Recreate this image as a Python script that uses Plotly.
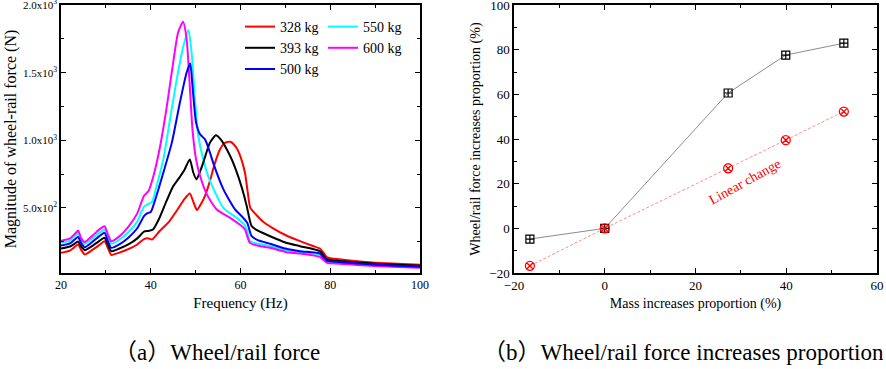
import plotly.graph_objects as go

# ---------------- (a) Wheel/rail force spectra ----------------
freq_328 = [20, 22, 23, 23.8, 24.5, 25.3, 27, 28.5, 29.7, 30.5, 31.2, 33, 35, 37, 38.5, 39.5, 40.3, 42, 44, 46,
            47.5, 48.7, 49.5, 50.3, 51.2, 52.1, 53.2, 54.2, 55.4, 56.5, 57.7, 59, 60, 61, 61.6, 62.2, 63.5, 65,
            67, 70, 73, 76, 77.7, 78.5, 79.3, 82, 86, 90, 95, 100]
force_328 = [168, 185, 210, 230, 190, 156, 190, 225, 254, 200, 153, 170, 195, 230, 270, 275, 267, 330, 395, 490,
             565, 607, 545, 484, 530, 590, 700, 820, 930, 980, 990, 950, 880, 760, 620, 500, 450, 400,
             355, 300, 258, 220, 200, 170, 135, 120, 105, 95, 88, 80]

freq_393 = [20, 22, 23, 23.8, 24.5, 25.3, 27, 28.5, 29.7, 30.5, 31.2, 33, 35, 37, 38.5, 39.5, 40.5, 42, 43.5, 45,
            46.5, 47.5, 48.7, 49.5, 50.2, 51, 51.7, 53.2, 54.5, 55.5, 57.7, 59, 60.3, 61.4, 62, 62.5, 64, 66.6,
            70, 73.3, 77.7, 78.5, 79.3, 82, 86, 90, 95, 100]
force_393 = [200, 215, 235, 252, 215, 188, 220, 255, 279, 225, 180, 200, 230, 275, 325, 330, 340, 430, 550, 660,
             730, 780, 859, 760, 711, 770, 835, 983, 1037, 1010, 884, 780, 650, 513, 420, 365, 330, 291,
             245, 217, 180, 150, 120, 108, 97, 88, 80, 73]

freq_500 = [20, 22, 23, 23.8, 24.5, 25.3, 27, 28.5, 29.7, 30.5, 31.2, 33, 35, 37, 38.5, 39.2, 40, 40.9, 42.8, 44.7,
            46.5, 48, 48.8, 49.3, 50.1, 51, 52.1, 53.2, 53.9, 56.2, 58.8, 60.6, 61.5, 62.5, 64, 66.6, 70, 73.3,
            77.7, 78.5, 79.3, 82, 86, 90, 95, 100]
force_500 = [222, 238, 265, 286, 240, 210, 250, 290, 316, 250, 205, 230, 280, 350, 440, 460, 470, 550, 760, 983,
             1279, 1501, 1568, 1402, 1131, 1044, 1007, 909, 835, 637, 489, 427, 390, 291, 260, 235, 200, 180,
             163, 135, 108, 100, 90, 80, 72, 66]

freq_550 = [20, 22, 23, 23.8, 24.5, 25.3, 27, 28.5, 29.7, 30.5, 31.2, 33, 35, 37, 38.5, 39.5, 40.3, 41.3, 42.8,
            44.3, 45.8, 47.3, 48.4, 49.1, 49.9, 50.6, 51.7, 53.2, 56.2, 59.1, 60.8, 61.5, 62.1, 64, 66.6, 70,
            73.3, 77.7, 78.5, 79.3, 82, 86, 90, 95, 100]
force_550 = [242, 258, 290, 316, 260, 235, 275, 315, 341, 280, 235, 265, 320, 400, 510, 530, 545, 661, 859,
             1156, 1452, 1699, 1815, 1650, 1279, 1032, 859, 700, 501, 427, 378, 330, 254, 235, 217, 188,
             173, 156, 130, 101, 95, 85, 76, 68, 62]

freq_600 = [20, 22, 23, 23.8, 24.5, 25.3, 27, 28.5, 29.7, 30.5, 31.2, 33, 35, 37, 38.5, 39.5, 40.6, 42.1, 43.6,
            45, 46.1, 47.2, 48, 48.7, 49.3, 50.1, 51, 52.5, 54.7, 57.7, 60.3, 61, 62.1, 64, 66.6, 70, 73.3,
            77.7, 78.5, 79.3, 82, 86, 90, 95, 100]
force_600 = [258, 275, 305, 333, 275, 249, 295, 340, 365, 300, 254, 290, 360, 460, 590, 625, 736, 958, 1254,
             1575, 1797, 1876, 1748, 1402, 1081, 859, 736, 600, 489, 427, 365, 341, 242, 220, 205, 175, 163,
             138, 115, 94, 88, 78, 70, 63, 58]

series_a = [
    ("328 kg", freq_328, force_328, "#ff0000", "legend"),
    ("550 kg", freq_550, force_550, "#00ffff", "legend2"),
    ("393 kg", freq_393, force_393, "#000000", "legend"),
    ("600 kg", freq_600, force_600, "#ff00ff", "legend2"),
    ("500 kg", freq_500, force_500, "#0000ff", "legend"),
]
yticks_a = [500, 1000, 1500, 2000]
yticktext_a = ["5.0x10<sup>2</sup>", "1.0x10<sup>3</sup>", "1.5x10<sup>3</sup>", "2.0x10<sup>3</sup>"]

# ---------------- (b) Increase proportions ----------------
mass_increase = [-16.5, 0, 27.2, 39.9, 52.7]
force_increase = [-4.8, 0, 60.6, 77.6, 82.9]
linear_change = [-16.8, 0, 26.9, 39.5, 52.3]

FONT = "Liberation Serif, Noto Sans CJK SC, serif"

fig = go.Figure()
for name, fx, fy, col, lg in series_a:
    fig.add_trace(go.Scatter(x=fx, y=fy, name=name, mode="lines",
                             line=dict(color=col, width=2, shape="spline", smoothing=0.6),
                             xaxis="x", yaxis="y", legend=lg))

fig.add_trace(go.Scatter(x=mass_increase, y=force_increase, mode="lines+markers",
                         line=dict(color="#8c8c8c", width=1),
                         marker=dict(symbol="square-cross-open", size=8, color="black", line=dict(width=1.2)),
                         xaxis="x2", yaxis="y2", showlegend=False))
fig.add_trace(go.Scatter(x=mass_increase, y=linear_change, mode="lines+markers",
                         line=dict(color="#ff8c8c", width=1, dash="3px,2px"),
                         marker=dict(symbol="circle-x-open", size=9, color="#ff0000", line=dict(width=1.3)),
                         xaxis="x2", yaxis="y2", showlegend=False))

axis_common = dict(showline=True, linecolor="black", linewidth=1.5, mirror="allticks",
                   ticks="inside", ticklen=5, tickwidth=1.2, tickcolor="black",
                   showgrid=False, zeroline=False, color="black", automargin=False,
                   ticklabeloverflow="allow")

fig.update_layout(
    width=886, height=369,
    margin=dict(l=0, r=0, t=0, b=0),
    paper_bgcolor="white", plot_bgcolor="white",
    font=dict(family=FONT, color="black"),
    xaxis=dict(domain=[61/886, 420/886], range=[20, 100.01], tickvals=[20, 40, 60, 80, 100],
               minor=dict(ticks="inside", ticklen=3, dtick=10, tick0=0, tickcolor="black"),
               tickfont=dict(size=12, family=FONT), anchor="y",
               title=dict(text="Frequency (Hz)", font=dict(size=15, family=FONT), standoff=6), **axis_common),
    yaxis=dict(domain=[96/369, 364/369], range=[19, 2000.5], tickvals=yticks_a, ticktext=yticktext_a,
               minor=dict(ticks="inside", ticklen=3, dtick=250, tick0=0, tickcolor="black"),
               tickfont=dict(size=11, family=FONT), anchor="x",
               title=dict(text="Magnitude of wheel-rail force (N)", font=dict(size=16, family=FONT), standoff=2),
               **axis_common),
    xaxis2=dict(domain=[514/886, 877/886], range=[-20, 60.01], dtick=20, tick0=0,
                minor=dict(ticks="inside", ticklen=3, dtick=10, tick0=0, tickcolor="black"),
                tickfont=dict(size=13, family=FONT), anchor="y2",
                title=dict(text="Mass increases proportion (%)", font=dict(size=14, family=FONT), standoff=6),
                **axis_common),
    yaxis2=dict(domain=[96/369, 364/369], range=[-20, 100.01], dtick=20, tick0=0,
                minor=dict(ticks="inside", ticklen=3, dtick=10, tick0=0, tickcolor="black"),
                tickfont=dict(size=13, family=FONT), anchor="x2",
                title=dict(text="Wheel/rail force increases proportion (%)", font=dict(size=14, family=FONT),
                           standoff=5),
                **axis_common),
    legend=dict(x=240/886, y=1 - 11/369, xanchor="left", yanchor="top", bgcolor="rgba(0,0,0,0)",
                font=dict(size=14, family=FONT), tracegroupgap=0, itemwidth=30),
    legend2=dict(x=323/886, y=1 - 11/369, xanchor="left", yanchor="top", bgcolor="rgba(0,0,0,0)",
                 font=dict(size=14, family=FONT), tracegroupgap=0, itemwidth=30),
    annotations=[
        dict(text="Linear change", x=31, y=21, xref="x2", yref="y2", showarrow=False, textangle=-29,
             font=dict(size=14, color="#ff0000", family=FONT)),
        dict(text="（a）Wheel/rail force", x=112/886, y=1 - 352/369, xref="paper", yref="paper",
             showarrow=False, xanchor="left", yanchor="middle", font=dict(size=23, family=FONT)),
        dict(text="（b）Wheel/rail force increases proportion", x=886/886, y=1 - 352/369, xref="paper",
             yref="paper", showarrow=False, xanchor="right", yanchor="middle", font=dict(size=23, family=FONT)),
    ],
)

fig.write_html("out.html", config={"displayModeBar": False},
               post_script="document.body.style.margin='0px';")
